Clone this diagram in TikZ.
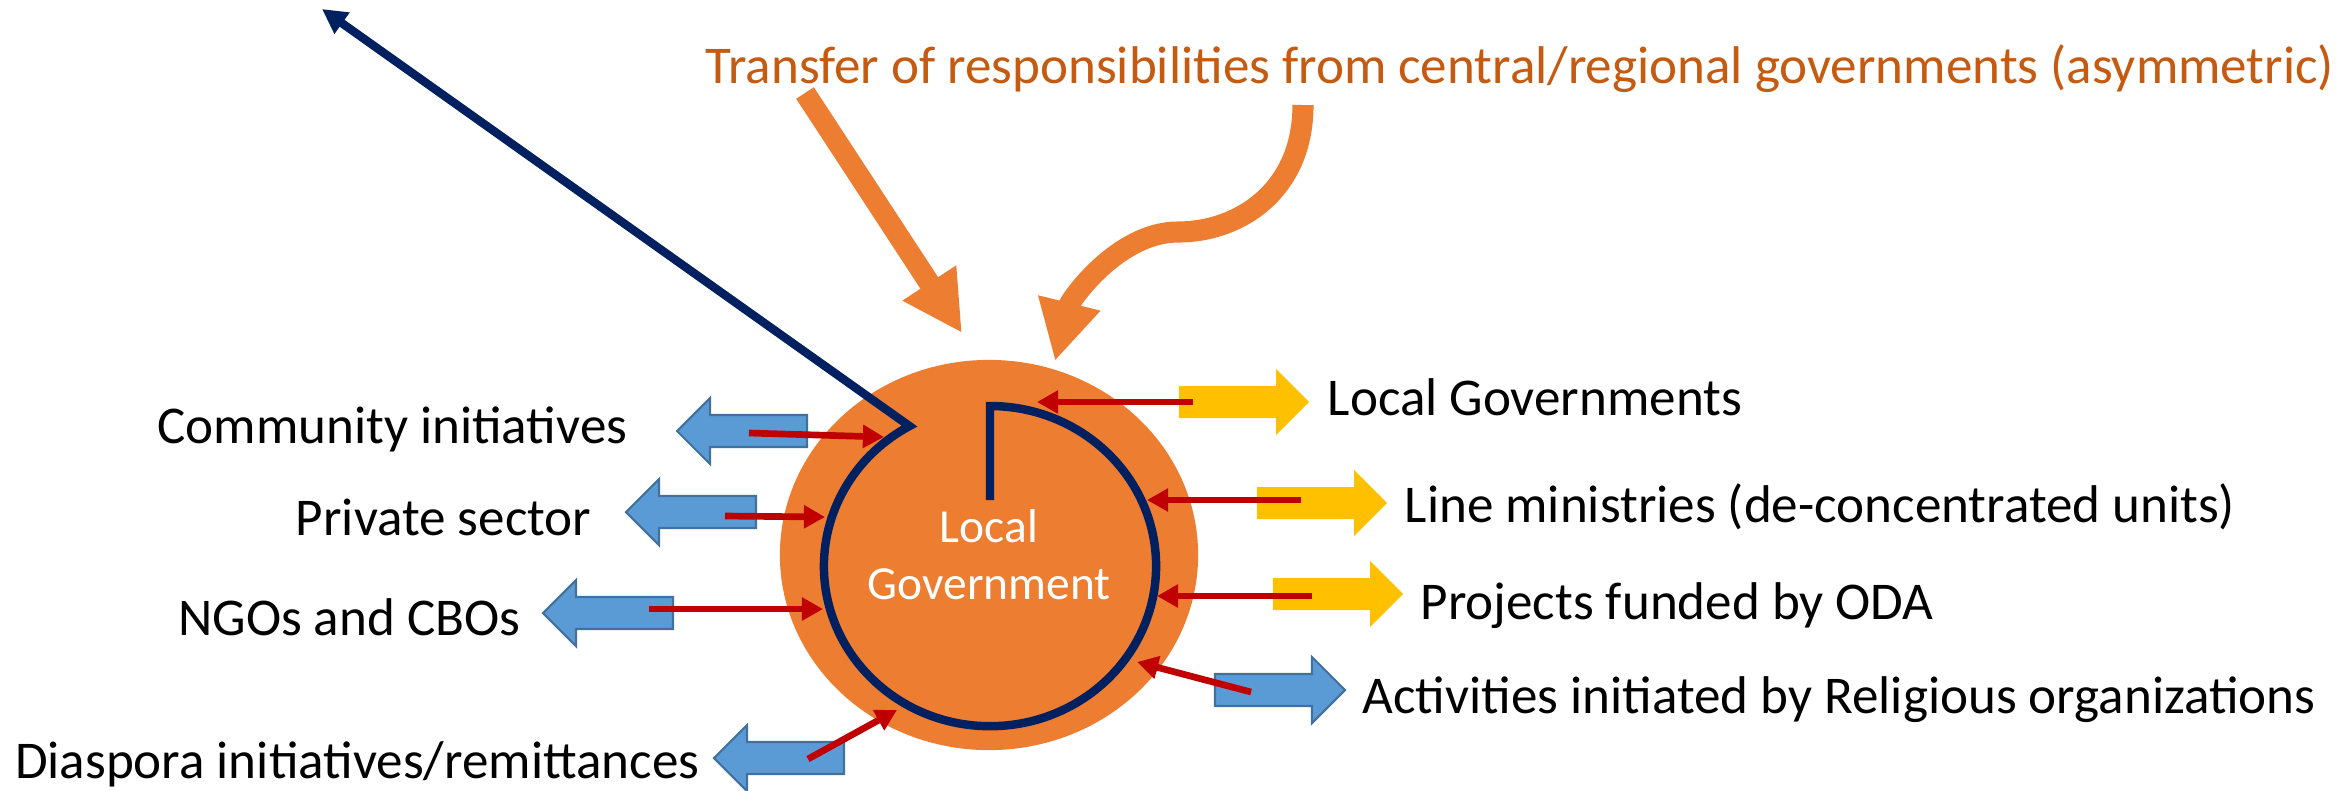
\documentclass[tikz,border=0pt]{standalone}
\usepackage{fontspec}
\setmainfont{Carlito}
\usetikzlibrary{arrows.meta, shapes.geometric}
\definecolor{lgorange}{RGB}{237, 125, 49}
\definecolor{titleorange}{RGB}{197, 90, 17}
\definecolor{ringnavy}{RGB}{0, 32, 96}
\definecolor{flowred}{RGB}{192, 0, 0}
\definecolor{actorblue}{RGB}{91, 155, 213}
\definecolor{actoredge}{RGB}{65, 113, 156}
\definecolor{govyellow}{RGB}{255, 192, 0}

\tikzset{
  lbl/.style={font=\fontsize{15.1}{18}\selectfont, inner sep=0pt},
  flow/.style={draw=flowred, line width=1.9pt, -{Triangle[length=6pt, width=6.3pt]}},
  transfer/.style={draw=lgorange, line width=6pt, -{Triangle[length=17pt, width=17pt]}},
  ring/.style={draw=ringnavy, line width=2.4pt, -{Triangle[length=7pt, width=7pt]}},
  bluearrow/.style={fill=actorblue, draw=actoredge, line width=0.6pt},
  yellowarrow/.style={fill=govyellow},
  pics/blockarrow/.style={code={
    \path[pic actions] (0,0) -- (-33,33) -- (-33,16) -- (-130,16) -- (-130,-16) -- (-33,-16) -- (-33,-33) -- cycle;
  }},
}

\begin{document}
\begin{tikzpicture}[x=0.01cm, y=0.01cm]
  \useasboundingbox (0,0) rectangle (2349,-790);

  % Local government disc
  \node[ellipse, fill=lgorange, minimum width=4.18cm, minimum height=3.9cm, inner sep=0pt] (lg) at (989,-555) {};
  \node[text=white, font=\fontsize{13.5}{16.2}\selectfont, align=center, inner sep=0pt] (lgtext) at (989,-555) {Local\\Government};

  % Ring opening up and out
  \coordinate (stem) at (990,-500);
  \coordinate (ringtop) at (990,-406);
  \coordinate (ringtip) at (322,-9);
  \draw[ring] (stem) -- (ringtop) arc[start angle=90, end angle=-241, x radius=1.66cm, y radius=1.6cm] -- (ringtip);

  % Transfer from central/regional governments
  \node[lbl, text=titleorange, anchor=base west] (transfer) at (705,-83) {Transfer of responsibilities from central/regional governments (asymmetric)};
  \coordinate (tra) at (805,-93);
  \coordinate (tra-tip) at (962,-333);
  \coordinate (trb) at (1303,-105);
  \coordinate (trb-tip) at (1055,-361);
  \draw[transfer] (tra) -- (tra-tip);
  \draw[transfer] (trb) .. controls (1303,-190) and (1240,-232) .. (1178,-232) .. controls (1118,-232) and (1070,-300) .. (trb-tip);

  % Non-state actors (left)
  \node[lbl, anchor=base east] (ci) at (628,-443) {Community initiatives};
  \node[lbl, anchor=base east] (ps) at (592,-535) {Private sector};
  \node[lbl, anchor=base east] (ngo) at (521,-635) {NGOs and CBOs};
  \node[lbl, anchor=base east] (dia) at (700,-778) {Diaspora initiatives/remittances};
  \pic[bluearrow, xscale=-1] at (677,-431) {blockarrow};
  \pic[bluearrow, xscale=-1] at (626,-512) {blockarrow};
  \pic[bluearrow, xscale=-1] at (543,-613) {blockarrow};
  \pic[bluearrow, xscale=-1] at (714,-758) {blockarrow};

  % State and external actors (right)
  \node[lbl, anchor=base west] (gov) at (1327,-415) {Local Governments};
  \node[lbl, anchor=base west] (lm) at (1404,-522) {Line ministries (de-concentrated units)};
  \node[lbl, anchor=base west] (oda) at (1420,-619) {Projects funded by ODA};
  \node[lbl, anchor=base west] (rel) at (1362,-713) {Activities initiated by Religious organizations};
  \pic[yellowarrow] at (1309,-402) {blockarrow};
  \pic[yellowarrow] at (1387,-503) {blockarrow};
  \pic[yellowarrow] at (1403,-594) {blockarrow};
  \pic[bluearrow] at (1345,-690) {blockarrow};

  % Flows into the local government
  \coordinate (ci-in) at (749,-433);   \coordinate (ci-lg) at (884,-437);
  \coordinate (ps-in) at (725,-516);   \coordinate (ps-lg) at (825,-517);
  \coordinate (ngo-in) at (649,-609);  \coordinate (ngo-lg) at (823,-609);
  \coordinate (dia-in) at (808,-759);  \coordinate (dia-lg) at (897,-710);
  \coordinate (gov-in) at (1193,-402); \coordinate (gov-lg) at (1037,-402);
  \coordinate (lm-in) at (1301,-500);  \coordinate (lm-lg) at (1147,-500);
  \coordinate (oda-in) at (1312,-596); \coordinate (oda-lg) at (1157,-596);
  \coordinate (rel-in) at (1251,-692); \coordinate (rel-lg) at (1137,-662);
  \draw[flow] (ci-in) -- (ci-lg);
  \draw[flow] (ps-in) -- (ps-lg);
  \draw[flow] (ngo-in) -- (ngo-lg);
  \draw[flow] (dia-in) -- (dia-lg);
  \draw[flow] (gov-in) -- (gov-lg);
  \draw[flow] (lm-in) -- (lm-lg);
  \draw[flow] (oda-in) -- (oda-lg);
  \draw[flow] (rel-in) -- (rel-lg);
\end{tikzpicture}
\end{document}
